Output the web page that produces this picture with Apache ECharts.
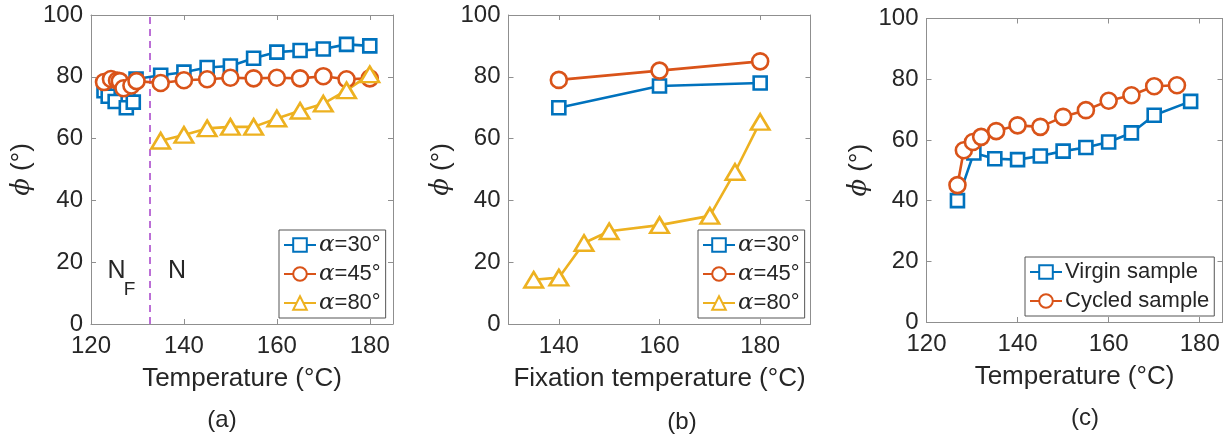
<!DOCTYPE html>
<html><head><meta charset="utf-8">
<script src="https://cdn.jsdelivr.net/npm/echarts@6/dist/echarts.min.js"></script>
<style>html,body{margin:0;padding:0;background:#fff}#c{width:1231px;height:439px}</style>
</head><body><div id="c"></div>
<script>
// Panel (a)
const aT30 = [122.8,123.7,125.2,127.6,129.1,129.7,135,140,145,150,155,160,165,170,175,180];
const aV30 = [75.5,73.7,72,70,71.8,79.3,80.5,81.5,83,83.5,86,88,88.5,89,90.5,90];
const aT45 = [122.8,124.3,125.6,126.2,127,128.7,129.8,135,140,145,150,155,160,165,170,175,180];
const aV45 = [78.3,79.3,78.8,78.6,76.3,77.2,78.6,78,78.9,79.2,79.7,79.5,79.7,79.5,80.2,79.2,79.5];
const aT80 = [135,140,145,150,155,160,165,170,175,180];
const aV80 = [59.3,61.2,63.3,63.8,63.8,66.5,69,71.3,75.6,80.8];
const aTransition = 132.7;
// Panel (b)
const bT = [140,160,180];
const bV30 = [70,77,78];
const bV45 = [79,82,85];
const bT80 = [135,140,145,150,160,170,175,180];
const bV80 = [14.3,15,26.2,30,32,35,49.2,65.4];
// Panel (c)
const cTv = [126.8,130.4,135,140,145,150,155,160,165,170,178];
const cVv = [40,55.7,53.8,53.5,54.7,56.3,57.5,59.3,62.3,68.1,72.7];
const cTc = [126.8,128.2,130.2,132,135.3,140,145,150,155,160,165,170,175];
const cVc = [45.1,56.6,59.3,61,62.9,64.8,64.3,67.6,69.8,72.9,74.7,77.7,78];
const yTicks = [0,20,40,60,80,100];
const bXTicks = [140,160,180];

const F = 'Liberation Sans, Arial, Helvetica, sans-serif';
const BLUE = '#0072BD', RED = '#D95319', YEL = '#EDB120';
const AX = '#8f8f8f', TXT = '#262626';
const zip = (xs, ys) => xs.map((x, i) => [x, ys[i]]);

const grids = [
  {left: 91, top: 15, width: 302, height: 309},
  {left: 508.5, top: 15, width: 302, height: 309},
  {left: 926.5, top: 18.5, width: 296, height: 303.5}
];
const xr = [[120,185],[130,190],[120,185]];
const xNames = ['Temperature (°C)','Fixation temperature (°C)','Temperature (°C)'];
const yGaps = [56, 54, 54];

const xAxis = [], yAxis = [];
for (let i = 0; i < 3; i++) {
  const custom = i === 1;
  const lbl = {show: true, fontSize: 24, color: TXT, fontFamily: F, margin: 10};
  const tick = {show: true, inside: true, length: 5, lineStyle: {color: AX}};
  if (custom) { lbl.customValues = bXTicks; tick.customValues = bXTicks; }
  xAxis.push({type: 'value', gridIndex: i, min: xr[i][0], max: xr[i][1], interval: custom ? 10 : 20,
    position: 'bottom', axisLine: {show: true, onZero: false, lineStyle: {color: AX}},
    axisTick: tick, axisLabel: lbl, splitLine: {show: false},
    name: xNames[i], nameLocation: 'middle', nameGap: 42,
    nameTextStyle: {fontSize: 26, color: TXT, fontFamily: F}});
  yAxis.push({type: 'value', gridIndex: i, min: 0, max: 100, interval: 20, position: 'left',
    axisLine: {show: true, onZero: false, lineStyle: {color: AX}},
    axisTick: {show: true, inside: true, length: 5, lineStyle: {color: AX}},
    axisLabel: {fontSize: 24, color: TXT, fontFamily: F, margin: 8},
    splitLine: {show: false},
    name: '{p|ϕ} (°)', nameLocation: 'middle', nameGap: yGaps[i], nameRotate: 90,
    nameTextStyle: {fontSize: 26, color: TXT, fontFamily: F,
      rich: {p: {fontSize: 26, fontStyle: 'italic', fontFamily: 'DejaVu Serif, Liberation Serif, serif', color: TXT}}}});
}
for (let i = 0; i < 3; i++) {
  const custom = i === 1;
  const tick = {show: true, inside: true, length: 5, lineStyle: {color: AX}};
  if (custom) tick.customValues = bXTicks;
  xAxis.push({type: 'value', gridIndex: i, min: xr[i][0], max: xr[i][1], interval: custom ? 10 : 20,
    position: 'top', axisLine: {show: true, onZero: false, lineStyle: {color: AX}},
    axisTick: tick, axisLabel: {show: false}, splitLine: {show: false}});
  yAxis.push({type: 'value', gridIndex: i, min: 0, max: 100, interval: 20, position: 'right',
    axisLine: {show: true, onZero: false, lineStyle: {color: AX}},
    axisTick: {show: true, inside: true, length: 5, lineStyle: {color: AX}},
    axisLabel: {show: false}, splitLine: {show: false}});
}

function ser(name, data, color, symbol, size, gi) {
  return {type: 'line', name, data, xAxisIndex: gi, yAxisIndex: gi, symbol, symbolSize: size,
    showAllSymbol: true, animation: false, z: 3,
    lineStyle: {color, width: 2.6}, itemStyle: {color: '#fff', borderColor: color, borderWidth: 2.6}};
}
const TRI = [18.5, 15.5];
const series = [
  {type: 'line', name: 'transition', data: [[aTransition, 0], [aTransition, 100]], xAxisIndex: 0, yAxisIndex: 0,
    symbol: 'none', animation: false, z: 1, lineStyle: {color: '#a53fc9', width: 1.5, type: [7, 5]}},
  ser('a30', zip(aT30, aV30), BLUE, 'rect', 13, 0),
  ser('a45', zip(aT45, aV45), RED, 'circle', 16, 0),
  ser('a80', zip(aT80, aV80), YEL, 'triangle', TRI, 0),
  ser('b30', zip(bT, bV30), BLUE, 'rect', 13, 1),
  ser('b45', zip(bT, bV45), RED, 'circle', 16, 1),
  ser('b80', zip(bT80, bV80), YEL, 'triangle', TRI, 1),
  ser('Virgin sample', zip(cTv, cVv), BLUE, 'rect', 13, 2),
  ser('Cycled sample', zip(cTc, cVc), RED, 'circle', 16, 2)
];
const alphaLabels = {a30: '{a|α}=30°', a45: '{a|α}=45°', a80: '{a|α}=80°', b30: '{a|α}=30°', b45: '{a|α}=45°', b80: '{a|α}=80°'};
function leg(names, left, top) {
  return {data: names, orient: 'vertical', left, top, padding: [3, 5, 3, 4], itemGap: 5,
    itemWidth: 32, itemHeight: 17, borderColor: '#555', borderWidth: 1, backgroundColor: '#fff',
    selectedMode: false, formatter: n => alphaLabels[n] || n,
    textStyle: {fontSize: 22, color: TXT, fontFamily: F, lineHeight: 24, padding: [0, 0, 0, -2],
      rich: {a: {fontSize: 23, fontStyle: 'italic', fontFamily: 'DejaVu Serif, Liberation Serif, serif', color: TXT, lineHeight: 24}}}};
}
const legend = [
  leg(['a30','a45','a80'], 279, 230),
  leg(['b30','b45','b80'], 698, 230),
  leg(['Virgin sample','Cycled sample'], 1025, 257)
];
const T = (text, x, y, size) => ({type: 'text', x, y,
  style: {text, fontSize: size, fill: TXT, fontFamily: F, align: 'center', verticalAlign: 'middle'}});
const graphic = [
  T('N', 116.5, 271, 25), T('F', 129.5, 290, 19), T('N', 177, 271, 25),
  T('(a)', 222, 420, 24), T('(b)', 682, 422, 24), T('(c)', 1085, 418, 24)
];
const chart = echarts.init(document.getElementById('c'), null, {renderer: 'canvas'});
chart.setOption({animation: false, backgroundColor: '#fff', grid: grids, xAxis, yAxis, series, legend, graphic});
</script></body></html>
